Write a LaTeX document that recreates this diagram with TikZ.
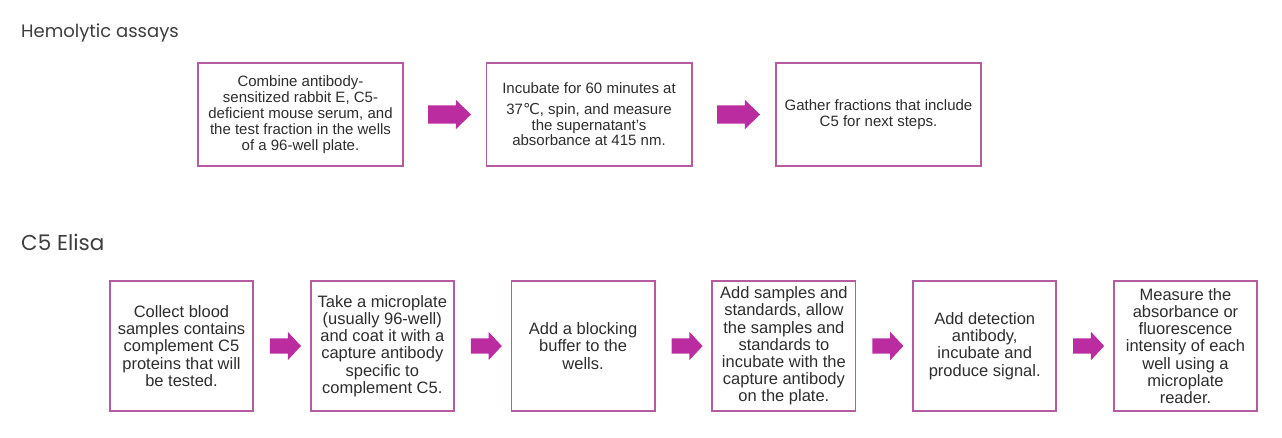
\documentclass[tikz,border=0pt]{standalone}
\usepackage{fontspec}
\setmainfont{Liberation Sans}
\newfontfamily\titlefont{Poppins}
\newfontfamily\symfont{DejaVu Sans}
\usetikzlibrary{positioning,shapes.arrows}
\definecolor{boxPink}{RGB}{181,92,160}
\definecolor{arrowMagenta}{RGB}{186,44,160}
\definecolor{textGray}{RGB}{45,45,45}
\definecolor{titleGray}{RGB}{62,62,62}

\begin{document}
\begin{tikzpicture}[x=1pt,y=-1pt,
  heading/.style={anchor=base west,inner sep=0pt,text=titleGray,font=\titlefont\fontsize{18}{20}\selectfont},
  hemobox/.style={draw=boxPink,line width=1.8pt,outer sep=0pt,minimum width=205.2pt,minimum height=103.2pt,inner sep=0pt,align=center,text=textGray,font=\fontsize{15}{16}\selectfont},
  elisabox/.style={hemobox,minimum width=143.2pt,minimum height=130.2pt,font=\fontsize{16.5}{17.2}\selectfont},
  hemoarrow/.style={single arrow,fill=arrowMagenta,draw=none,inner xsep=0pt,inner ysep=9pt,minimum height=43pt,single arrow head extend=5.5pt,single arrow tip angle=88},
  elisaarrow/.style={hemoarrow,inner ysep=7.5pt,minimum height=31pt,single arrow head extend=6.5pt,single arrow tip angle=94}]
\useasboundingbox (0,0) rectangle (1282,437);

% Hemolytic assays
\node[heading] (hemotitle) at (21,37.3) {Hemolytic assays};
\node[hemobox] (h1) at (300.5,114.5) {Combine antibody-\\sensitized rabbit E, C5-\\deficient mouse serum, and\\the test fraction in the wells\\of a 96-well plate.};
\node[hemobox,right=83.3pt of h1,font=\fontsize{15}{15}\selectfont] (h2) {Incubate for 60 minutes at\\[5.5pt]37{\symfont ℃}, spin, and measure\\[1.5pt]the supernatant's\\absorbance at 415 nm.};
\node[hemobox,right=84.3pt of h2] (h3) {Gather fractions that include\\C5 for next steps.};
\path (h1) -- node[hemoarrow] {} (h2);
\path (h2) -- node[hemoarrow] {} (h3);

% C5 Elisa
\node[heading,font=\titlefont\fontsize{21.5}{24}\selectfont] (elisatitle) at (21,250) {C5 Elisa};
\node[elisabox] (e1) at (181.5,346) {Collect blood\\samples contains\\complement C5\\proteins that will\\be tested.};
\node[elisabox,right=57.6pt of e1] (e2) {Take a microplate\\(usually 96-well)\\and coat it with a\\capture antibody\\specific to\\complement C5.};
\node[elisabox,right=57.6pt of e2] (e3) {Add a blocking\\buffer to the\\wells.};
\node[elisabox,right=57.6pt of e3] (e4) {Add samples and\\standards, allow\\the samples and\\standards to\\incubate with the\\capture antibody\\on the plate.};
\node[elisabox,right=57.6pt of e4] (e5) {Add detection\\antibody,\\incubate and\\produce signal.};
\node[elisabox,right=57.6pt of e5] (e6) {Measure the\\absorbance or\\fluorescence\\intensity of each\\well using a\\microplate\\reader.};
\path (e1) -- node[elisaarrow] {} (e2);
\path (e2) -- node[elisaarrow] {} (e3);
\path (e3) -- node[elisaarrow] {} (e4);
\path (e4) -- node[elisaarrow] {} (e5);
\path (e5) -- node[elisaarrow] {} (e6);
\end{tikzpicture}
\end{document}
